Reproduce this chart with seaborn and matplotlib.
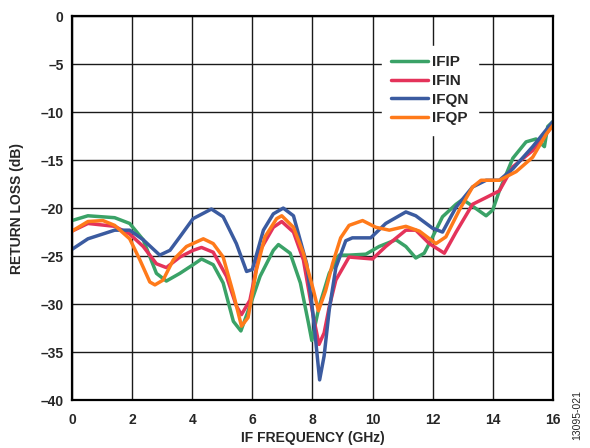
import pandas as pd
import matplotlib
matplotlib.use('Agg')
import matplotlib.pyplot as plt
import seaborn as sns

# %%
# Return loss traces (GHz, dB)
ifip_x = [0, 0.53, 1.42, 1.92, 2.37, 2.81, 3.14, 3.59, 4.03, 4.31, 4.7, 5.03, 5.37, 5.62, 5.92, 6.26,
          6.7, 6.87, 7.26, 7.6, 7.87, 7.98, 8.22, 8.56, 8.89, 9.22, 9.78, 10.22, 10.78, 11.11, 11.44,
          11.72, 12.0, 12.33, 12.78, 13.0, 13.33, 13.78, 14.0, 14.22, 14.67, 15.11, 15.44, 15.72, 15.83, 16.0]
ifip_y = [-21.3, -20.8, -21.0, -21.6, -23.3, -26.8, -27.6, -26.8, -25.9, -25.3, -25.9, -27.8, -31.8, -32.8,
          -30.2, -27.1, -24.4, -23.8, -24.7, -27.8, -32.0, -33.8, -30.3, -26.8, -24.9, -24.9, -24.8, -24.0,
          -23.3, -24.0, -25.2, -24.7, -23.0, -20.9, -19.6, -19.1, -19.8, -20.8, -20.2, -18.2, -14.8, -13.1,
          -12.8, -13.6, -11.5, -11.0]

ifin_x = [0, 0.53, 1.42, 1.92, 2.37, 2.81, 3.14, 3.59, 4.03, 4.31, 4.7, 5.14, 5.47, 5.64, 5.92, 6.26,
          6.7, 6.98, 7.37, 7.7, 8.03, 8.22, 8.39, 8.56, 8.78, 9.22, 10.0, 10.44, 11.11, 11.44, 11.89,
          12.39, 12.78, 13.33, 13.78, 14.22, 14.67, 15.33, 16.0]
ifin_y = [-22.4, -21.6, -21.9, -22.7, -24.0, -25.8, -26.2, -25.1, -24.4, -24.1, -24.6, -27.1, -30.2, -31.1,
          -29.6, -24.4, -22.0, -21.4, -22.5, -25.4, -31.3, -34.2, -33.0, -30.3, -27.5, -25.1, -25.3, -24.0,
          -22.3, -22.3, -23.7, -24.7, -22.5, -19.6, -18.9, -18.2, -15.7, -14.0, -11.4]

ifqn_x = [0, 0.53, 1.42, 1.92, 2.37, 2.92, 3.26, 3.59, 4.03, 4.64, 5.03, 5.47, 5.81, 6.0, 6.37, 6.7,
          7.03, 7.37, 7.81, 8.03, 8.24, 8.39, 8.56, 8.78, 9.11, 9.33, 9.94, 10.44, 11.11, 11.44, 12.0,
          12.33, 12.78, 13.33, 13.78, 14.22, 14.67, 15.33, 16.0]
ifqn_y = [-24.3, -23.2, -22.3, -22.3, -23.3, -24.9, -24.4, -23.0, -21.1, -20.1, -20.9, -23.7, -26.6, -26.4,
          -22.3, -20.6, -20.0, -20.8, -25.8, -31.3, -37.9, -35.4, -30.6, -26.2, -23.4, -23.1, -23.1, -21.6,
          -20.4, -20.8, -22.1, -22.5, -19.9, -17.8, -17.1, -17.1, -15.9, -13.6, -11.0]

ifqp_x = [0, 0.53, 1.03, 1.42, 1.92, 2.26, 2.59, 2.76, 3.03, 3.37, 3.81, 4.37, 4.7, 5.03, 5.37, 5.64,
          5.86, 6.14, 6.42, 6.81, 6.98, 7.37, 7.7, 8.03, 8.2, 8.44, 8.67, 8.94, 9.22, 9.67, 10.11, 10.56,
          11.11, 11.56, 12.11, 12.44, 12.89, 13.33, 13.61, 14.22, 14.78, 15.33, 15.78, 16.0]
ifqp_y = [-22.4, -21.4, -21.3, -21.8, -23.2, -25.4, -27.7, -28.0, -27.5, -25.4, -24.0, -23.2, -23.7, -25.1,
          -28.9, -32.3, -31.4, -26.4, -23.0, -21.1, -20.8, -22.0, -24.7, -28.5, -30.7, -28.6, -25.8, -23.1,
          -21.8, -21.3, -22.0, -22.3, -21.9, -22.4, -23.7, -23.0, -20.2, -17.8, -17.1, -17.1, -16.2, -14.7,
          -12.3, -11.4]

series_names = ['IFIP', 'IFIN', 'IFQN', 'IFQP']
series_colors = ['#3AA267', '#E4335A', '#3B5BA0', '#FF7A1A']
x_ticks = list(range(0, 17, 2))
y_ticks = list(range(-40, 1, 5))

# %%
# Long table for seaborn
frames = []
for name, xs, ys in zip(series_names, [ifip_x, ifin_x, ifqn_x, ifqp_x], [ifip_y, ifin_y, ifqn_y, ifqp_y]):
    frames.append(pd.DataFrame({'freq': xs, 'rl': ys, 'port': name}))
df = pd.concat(frames, ignore_index=True)

# %%
sns.set_style('white')
plt.rcParams['font.family'] = ['Liberation Sans', 'DejaVu Sans']

fig = plt.figure(figsize=(5.9, 4.48), dpi=100)
ax = fig.add_axes([0.122, 0.107, 0.815, 0.857])

sns.lineplot(data=df, x='freq', y='rl', hue='port', hue_order=series_names,
             palette=series_colors, linewidth=2.5, sort=False, estimator=None, ax=ax)

ax.set_xlim(0, 16)
ax.set_ylim(-40, 0)
ax.set_xticks(x_ticks)
ax.set_yticks(y_ticks)
ax.set_yticklabels([f'{v}'.replace('-', '\u2013') for v in y_ticks])
ax.grid(True, color='#1a1a1a', linewidth=1.0)
ax.set_axisbelow(True)
ax.tick_params(length=0, labelsize=10)
ax.tick_params(axis='x', pad=9)
ax.tick_params(axis='y', pad=6)
for lab in ax.get_xticklabels() + ax.get_yticklabels():
    lab.set_fontweight('bold')
for sp in ax.spines.values():
    sp.set_color('black')
    sp.set_linewidth(1.6)

ax.set_xlabel('IF FREQUENCY (GHz)', fontsize=10, fontweight='bold', labelpad=3)
ax.set_ylabel('RETURN LOSS (dB)', fontsize=10, fontweight='bold', labelpad=12)

leg = ax.legend(loc='upper left', bbox_to_anchor=(0.628, 0.942), frameon=True,
                prop={'weight': 'bold', 'size': 11}, handlelength=2.45, labelspacing=0.31,
                handletextpad=0.25, borderpad=0.6, fancybox=False, framealpha=1)
leg.get_frame().set_edgecolor('white')
leg.get_frame().set_facecolor('white')

fig.text(0.978, 0.018, '13095-021', rotation=90, fontsize=7.5, ha='center', va='bottom')

fig.savefig('out.png', dpi=100)
